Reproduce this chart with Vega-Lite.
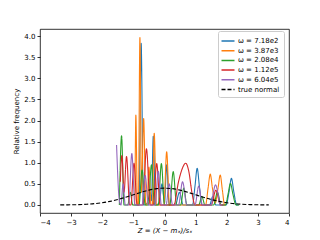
{
  "$schema": "https://vega.github.io/schema/vega-lite/v6.json",
  "width": 249,
  "height": 184,
  "autosize": {"type": "none"},
  "padding": {"left": 40, "top": 29, "right": 31, "bottom": 27},
  "background": "white",
  "config": {
    "font": "DejaVu Sans",
    "view": {"stroke": "black", "strokeWidth": 0.8},
    "axis": {
      "grid": false,
      "domain": false,
      "tickColor": "black",
      "tickSize": 3,
      "tickWidth": 0.8,
      "labelFontSize": 7,
      "labelColor": "black",
      "titleFontSize": 7,
      "titleFontWeight": "normal",
      "titleColor": "black",
      "labelPadding": 2
    }
  },
  "data": {
    "values": [
      {"s": "ω = 7.18e2", "x": -0.95, "y": 0},
      {"s": "ω = 7.18e2", "x": -0.82, "y": 0},
      {"s": "ω = 7.18e2", "x": -0.75, "y": 3.83},
      {"s": "ω = 7.18e2", "x": -0.68, "y": 0},
      {"s": "ω = 7.18e2", "x": -0.55, "y": 0.05},
      {"s": "ω = 7.18e2", "x": -0.46, "y": 0.3},
      {"s": "ω = 7.18e2", "x": -0.42, "y": 0.1},
      {"s": "ω = 7.18e2", "x": -0.36, "y": 1.63},
      {"s": "ω = 7.18e2", "x": -0.29, "y": 0},
      {"s": "ω = 7.18e2", "x": -0.17, "y": 0.05},
      {"s": "ω = 7.18e2", "x": -0.08, "y": 0.5},
      {"s": "ω = 7.18e2", "x": 0.0, "y": 0.05},
      {"s": "ω = 7.18e2", "x": 0.07, "y": 0.95},
      {"s": "ω = 7.18e2", "x": 0.15, "y": 0},
      {"s": "ω = 7.18e2", "x": 0.35, "y": 0},
      {"s": "ω = 7.18e2", "x": 0.48, "y": 0.3},
      {"s": "ω = 7.18e2", "x": 0.6, "y": 0},
      {"s": "ω = 7.18e2", "x": 0.9, "y": 0},
      {"s": "ω = 7.18e2", "x": 0.98, "y": 0.45},
      {"s": "ω = 7.18e2", "x": 1.05, "y": 0.87},
      {"s": "ω = 7.18e2", "x": 1.12, "y": 0.45},
      {"s": "ω = 7.18e2", "x": 1.2, "y": 0},
      {"s": "ω = 7.18e2", "x": 1.45, "y": 0},
      {"s": "ω = 7.18e2", "x": 1.55, "y": 0.2},
      {"s": "ω = 7.18e2", "x": 1.65, "y": 0},
      {"s": "ω = 7.18e2", "x": 1.98, "y": 0},
      {"s": "ω = 7.18e2", "x": 2.07, "y": 0.3},
      {"s": "ω = 7.18e2", "x": 2.15, "y": 0.63},
      {"s": "ω = 7.18e2", "x": 2.23, "y": 0.3},
      {"s": "ω = 7.18e2", "x": 2.32, "y": 0},
      {"s": "ω = 7.18e2", "x": 2.38, "y": 0},

      {"s": "ω = 3.87e3", "x": -1.0, "y": 0},
      {"s": "ω = 3.87e3", "x": -0.96, "y": 0},
      {"s": "ω = 3.87e3", "x": -0.92, "y": 2.13},
      {"s": "ω = 3.87e3", "x": -0.87, "y": 0},
      {"s": "ω = 3.87e3", "x": -0.84, "y": 0},
      {"s": "ω = 3.87e3", "x": -0.79, "y": 3.97},
      {"s": "ω = 3.87e3", "x": -0.74, "y": 0.3},
      {"s": "ω = 3.87e3", "x": -0.67, "y": 2.05},
      {"s": "ω = 3.87e3", "x": -0.6, "y": 0},
      {"s": "ω = 3.87e3", "x": -0.56, "y": 0},
      {"s": "ω = 3.87e3", "x": -0.5, "y": 0.9},
      {"s": "ω = 3.87e3", "x": -0.43, "y": 0},
      {"s": "ω = 3.87e3", "x": -0.39, "y": 0},
      {"s": "ω = 3.87e3", "x": -0.33, "y": 1.7},
      {"s": "ω = 3.87e3", "x": -0.26, "y": 0},
      {"s": "ω = 3.87e3", "x": -0.02, "y": 0},
      {"s": "ω = 3.87e3", "x": 0.07, "y": 1.26},
      {"s": "ω = 3.87e3", "x": 0.16, "y": 0},
      {"s": "ω = 3.87e3", "x": 1.32, "y": 0},
      {"s": "ω = 3.87e3", "x": 1.4, "y": 0.4},
      {"s": "ω = 3.87e3", "x": 1.47, "y": 0.73},
      {"s": "ω = 3.87e3", "x": 1.54, "y": 0.4},
      {"s": "ω = 3.87e3", "x": 1.63, "y": 0.05},
      {"s": "ω = 3.87e3", "x": 1.72, "y": 0.4},
      {"s": "ω = 3.87e3", "x": 1.79, "y": 0.71},
      {"s": "ω = 3.87e3", "x": 1.86, "y": 0.35},
      {"s": "ω = 3.87e3", "x": 1.93, "y": 0},
      {"s": "ω = 3.87e3", "x": 1.97, "y": 0},

      {"s": "ω = 2.08e4", "x": -1.45, "y": 0},
      {"s": "ω = 2.08e4", "x": -1.38, "y": 1.64},
      {"s": "ω = 2.08e4", "x": -1.3, "y": 0},
      {"s": "ω = 2.08e4", "x": -1.18, "y": 0},
      {"s": "ω = 2.08e4", "x": -1.1, "y": 0.3},
      {"s": "ω = 2.08e4", "x": -1.02, "y": 0},
      {"s": "ω = 2.08e4", "x": -0.82, "y": 0},
      {"s": "ω = 2.08e4", "x": -0.72, "y": 0.83},
      {"s": "ω = 2.08e4", "x": -0.62, "y": 0},
      {"s": "ω = 2.08e4", "x": -0.52, "y": 0},
      {"s": "ω = 2.08e4", "x": -0.42, "y": 0.95},
      {"s": "ω = 2.08e4", "x": -0.32, "y": 0},
      {"s": "ω = 2.08e4", "x": -0.2, "y": 0},
      {"s": "ω = 2.08e4", "x": -0.1, "y": 0.98},
      {"s": "ω = 2.08e4", "x": 0.0, "y": 0},
      {"s": "ω = 2.08e4", "x": 0.17, "y": 0},
      {"s": "ω = 2.08e4", "x": 0.28, "y": 0.79},
      {"s": "ω = 2.08e4", "x": 0.39, "y": 0},
      {"s": "ω = 2.08e4", "x": 0.52, "y": 0},
      {"s": "ω = 2.08e4", "x": 0.62, "y": 0.4},
      {"s": "ω = 2.08e4", "x": 0.72, "y": 0},
      {"s": "ω = 2.08e4", "x": 1.1, "y": 0},
      {"s": "ω = 2.08e4", "x": 1.2, "y": 0.2},
      {"s": "ω = 2.08e4", "x": 1.3, "y": 0},
      {"s": "ω = 2.08e4", "x": 1.58, "y": 0},
      {"s": "ω = 2.08e4", "x": 1.7, "y": 0.3},
      {"s": "ω = 2.08e4", "x": 1.82, "y": 0},
      {"s": "ω = 2.08e4", "x": 1.96, "y": 0},
      {"s": "ω = 2.08e4", "x": 2.04, "y": 0.25},
      {"s": "ω = 2.08e4", "x": 2.12, "y": 0.51},
      {"s": "ω = 2.08e4", "x": 2.2, "y": 0.25},
      {"s": "ω = 2.08e4", "x": 2.3, "y": 0},
      {"s": "ω = 2.08e4", "x": 2.4, "y": 0},

      {"s": "ω = 1.12e5", "x": -1.42, "y": 0.55},
      {"s": "ω = 1.12e5", "x": -1.37, "y": 1.17},
      {"s": "ω = 1.12e5", "x": -1.3, "y": 0.3},
      {"s": "ω = 1.12e5", "x": -1.22, "y": 1.15},
      {"s": "ω = 1.12e5", "x": -1.12, "y": 0},
      {"s": "ω = 1.12e5", "x": -1.08, "y": 0},
      {"s": "ω = 1.12e5", "x": -0.98, "y": 0.99},
      {"s": "ω = 1.12e5", "x": -0.88, "y": 0},
      {"s": "ω = 1.12e5", "x": -0.7, "y": 0},
      {"s": "ω = 1.12e5", "x": -0.58, "y": 1.33},
      {"s": "ω = 1.12e5", "x": -0.46, "y": 0},
      {"s": "ω = 1.12e5", "x": -0.36, "y": 0},
      {"s": "ω = 1.12e5", "x": -0.25, "y": 0.98},
      {"s": "ω = 1.12e5", "x": -0.14, "y": 0},
      {"s": "ω = 1.12e5", "x": 0.3, "y": 0},
      {"s": "ω = 1.12e5", "x": 0.45, "y": 0.55},
      {"s": "ω = 1.12e5", "x": 0.58, "y": 0.88},
      {"s": "ω = 1.12e5", "x": 0.68, "y": 0.99},
      {"s": "ω = 1.12e5", "x": 0.78, "y": 0.8},
      {"s": "ω = 1.12e5", "x": 0.88, "y": 0.3},
      {"s": "ω = 1.12e5", "x": 0.98, "y": 0},
      {"s": "ω = 1.12e5", "x": 1.5, "y": 0},
      {"s": "ω = 1.12e5", "x": 1.65, "y": 0.35},
      {"s": "ω = 1.12e5", "x": 1.8, "y": 0},
      {"s": "ω = 1.12e5", "x": 1.9, "y": 0},

      {"s": "ω = 6.04e5", "x": -1.54, "y": 1.42},
      {"s": "ω = 6.04e5", "x": -1.45, "y": 0.1},
      {"s": "ω = 6.04e5", "x": -1.4, "y": 0},
      {"s": "ω = 6.04e5", "x": -1.33, "y": 0.5},
      {"s": "ω = 6.04e5", "x": -1.26, "y": 0},
      {"s": "ω = 6.04e5", "x": -1.15, "y": 0},
      {"s": "ω = 6.04e5", "x": -1.05, "y": 1.22},
      {"s": "ω = 6.04e5", "x": -0.95, "y": 0},
      {"s": "ω = 6.04e5", "x": -0.72, "y": 0},
      {"s": "ω = 6.04e5", "x": -0.62, "y": 0.7},
      {"s": "ω = 6.04e5", "x": -0.52, "y": 0},
      {"s": "ω = 6.04e5", "x": -0.3, "y": 0},
      {"s": "ω = 6.04e5", "x": -0.2, "y": 0.8},
      {"s": "ω = 6.04e5", "x": -0.1, "y": 0},
      {"s": "ω = 6.04e5", "x": 0.05, "y": 0},
      {"s": "ω = 6.04e5", "x": 0.15, "y": 0.5},
      {"s": "ω = 6.04e5", "x": 0.26, "y": 0},
      {"s": "ω = 6.04e5", "x": 0.45, "y": 0},
      {"s": "ω = 6.04e5", "x": 0.58, "y": 0.55},
      {"s": "ω = 6.04e5", "x": 0.72, "y": 0},
      {"s": "ω = 6.04e5", "x": 0.98, "y": 0},
      {"s": "ω = 6.04e5", "x": 1.1, "y": 0.45},
      {"s": "ω = 6.04e5", "x": 1.22, "y": 0},
      {"s": "ω = 6.04e5", "x": 1.5, "y": 0},
      {"s": "ω = 6.04e5", "x": 1.57, "y": 0.3},
      {"s": "ω = 6.04e5", "x": 1.64, "y": 0.48},
      {"s": "ω = 6.04e5", "x": 1.71, "y": 0.3},
      {"s": "ω = 6.04e5", "x": 1.79, "y": 0},
      {"s": "ω = 6.04e5", "x": 1.85, "y": 0},

      {"s": "true normal", "x": -3.35, "y": 0.0015},
      {"s": "true normal", "x": -3.0, "y": 0.0044},
      {"s": "true normal", "x": -2.75, "y": 0.0091},
      {"s": "true normal", "x": -2.5, "y": 0.0175},
      {"s": "true normal", "x": -2.25, "y": 0.0317},
      {"s": "true normal", "x": -2.0, "y": 0.054},
      {"s": "true normal", "x": -1.75, "y": 0.0863},
      {"s": "true normal", "x": -1.5, "y": 0.1295},
      {"s": "true normal", "x": -1.25, "y": 0.1826},
      {"s": "true normal", "x": -1.0, "y": 0.242},
      {"s": "true normal", "x": -0.75, "y": 0.3011},
      {"s": "true normal", "x": -0.5, "y": 0.3521},
      {"s": "true normal", "x": -0.25, "y": 0.3867},
      {"s": "true normal", "x": 0.0, "y": 0.3989},
      {"s": "true normal", "x": 0.25, "y": 0.3867},
      {"s": "true normal", "x": 0.5, "y": 0.3521},
      {"s": "true normal", "x": 0.75, "y": 0.3011},
      {"s": "true normal", "x": 1.0, "y": 0.242},
      {"s": "true normal", "x": 1.25, "y": 0.1826},
      {"s": "true normal", "x": 1.5, "y": 0.1295},
      {"s": "true normal", "x": 1.75, "y": 0.0863},
      {"s": "true normal", "x": 2.0, "y": 0.054},
      {"s": "true normal", "x": 2.25, "y": 0.0317},
      {"s": "true normal", "x": 2.5, "y": 0.0175},
      {"s": "true normal", "x": 2.75, "y": 0.0091},
      {"s": "true normal", "x": 3.0, "y": 0.0044},
      {"s": "true normal", "x": 3.35, "y": 0.0015}
    ]
  },
  "mark": {"type": "line", "strokeWidth": 1.1, "interpolate": "monotone", "clip": true},
  "encoding": {
    "x": {
      "field": "x", "type": "quantitative",
      "scale": {"domain": [-4, 4], "nice": false, "zero": false},
      "axis": {"values": [-4, -3, -2, -1, 0, 1, 2, 3, 4], "format": "d", "title": "Z = (X − mₓ)/sₓ", "titleFontStyle": "italic", "titlePadding": 1}
    },
    "y": {
      "field": "y", "type": "quantitative",
      "scale": {"domain": [-0.19, 4.17], "nice": false, "zero": false},
      "axis": {"values": [0, 0.5, 1, 1.5, 2, 2.5, 3, 3.5, 4], "format": ".1f", "title": "Relative frequency", "titlePadding": 4}
    },
    "color": {
      "field": "s", "type": "nominal",
      "scale": {
        "domain": ["ω = 7.18e2", "ω = 3.87e3", "ω = 2.08e4", "ω = 1.12e5", "ω = 6.04e5", "true normal"],
        "range": ["#1f77b4", "#ff7f0e", "#2ca02c", "#d62728", "#9467bd", "#000000"]
      },
      "legend": {
        "title": null, "orient": "none", "legendX": 178, "legendY": 2,
        "symbolType": "M-1.3,0H1.3", "symbolSize": 100, "symbolStrokeWidth": 1.5,
        "labelFontSize": 7, "labelColor": "black", "rowPadding": 0.7,
        "fillColor": "white", "strokeColor": "#cccccc", "padding": 4, "cornerRadius": 2
      }
    },
    "strokeDash": {
      "field": "s", "type": "nominal",
      "scale": {
        "domain": ["ω = 7.18e2", "ω = 3.87e3", "ω = 2.08e4", "ω = 1.12e5", "ω = 6.04e5", "true normal"],
        "range": [[1, 0], [1, 0], [1, 0], [1, 0], [1, 0], [4, 2]]
      },
      "legend": {
        "title": null, "orient": "none", "legendX": 178, "legendY": 2,
        "symbolType": "M-1.3,0H1.3", "symbolSize": 100, "symbolStrokeWidth": 1.5,
        "labelFontSize": 7, "labelColor": "black", "rowPadding": 0.7,
        "fillColor": "white", "strokeColor": "#cccccc", "padding": 4, "cornerRadius": 2
      }
    },
    "order": {"field": "x", "type": "quantitative"}
  }
}
